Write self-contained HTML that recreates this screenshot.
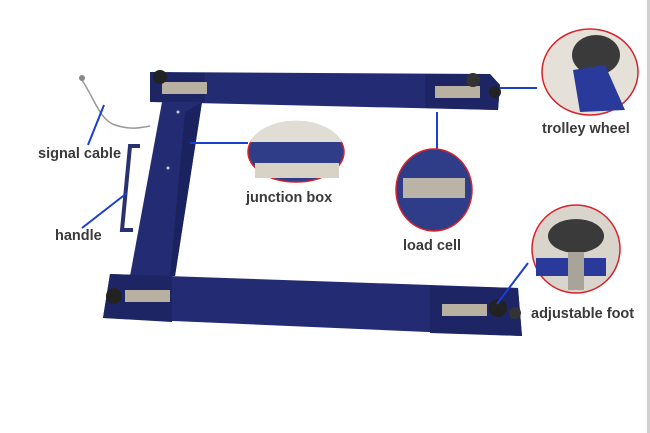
<!DOCTYPE html>
<html><head><style>
html,body{margin:0;padding:0;background:#fff;width:650px;height:433px;overflow:hidden}
svg text{font-family:"Liberation Sans",sans-serif;font-weight:bold;font-size:14.5px;fill:#3a3a3a}
</style></head><body>
<svg width="650" height="433" viewBox="0 0 650 433" xmlns="http://www.w3.org/2000/svg">
<rect x="647" y="0" width="3" height="433" fill="#d0d0d0"/>
<!-- handle -->
<path d="M140 146 L130 146 L122 230 L133 230" fill="none" stroke="#2a3170" stroke-width="4"/>
<!-- signal cable -->
<path d="M82 80 C95 100 100 120 115 125 C130 130 140 128 150 126" fill="none" stroke="#999" stroke-width="1.5"/>
<circle cx="82" cy="78" r="3" fill="#888"/>
<!-- frame -->
<polygon points="150,72 490,74 500,85 498,110 150,102" fill="#232c72"/>
<polygon points="162,102 202,102 175,276 130,276" fill="#232c72"/>
<polygon points="185,112 202,102 175,276 170,276" fill="#1a2260"/>
<polygon points="110,274 518,288 522,336 103,318" fill="#232c72"/>
<polygon points="110,274 172,276 172,322 103,318" fill="#1d2565"/>
<polygon points="430,286 518,288 522,336 430,333" fill="#1d2565"/>
<polygon points="150,72 205,73 205,102 150,102" fill="#1d2565"/>
<polygon points="425,74 490,74 500,85 498,110 425,108" fill="#1d2565"/>
<!-- load cells / feet -->
<rect x="162" y="82" width="45" height="12" fill="#b8b0a0"/>
<circle cx="160" cy="77" r="7" fill="#222"/>
<rect x="435" y="86" width="45" height="12" fill="#b8b0a0"/>
<circle cx="473" cy="80" r="7" fill="#333"/>
<circle cx="495" cy="92" r="6" fill="#222"/>
<rect x="125" y="290" width="45" height="12" fill="#b8b0a0"/>
<circle cx="114" cy="296" r="8" fill="#222"/>
<rect x="442" y="304" width="45" height="12" fill="#b8b0a0"/>
<circle cx="498" cy="308" r="9" fill="#222"/>
<circle cx="515" cy="313" r="6" fill="#333"/>
<circle cx="178" cy="112" r="1.5" fill="#ccc"/><circle cx="168" cy="168" r="1.5" fill="#ccc"/>
<!-- callout lines -->
<g stroke="#1a3fd0" stroke-width="2" fill="none">
<line x1="88" y1="145" x2="104" y2="105"/>
<line x1="82" y1="228" x2="127" y2="193"/>
<line x1="190" y1="143" x2="248" y2="143"/>
<line x1="437" y1="112" x2="437" y2="149"/>
<line x1="500" y1="88" x2="537" y2="88"/>
<line x1="497" y1="304" x2="528" y2="263"/>
</g>
<!-- circles -->
<ellipse cx="296" cy="152" rx="48" ry="30" fill="#2f3d88" stroke="#d8222a" stroke-width="1.5"/>
<path d="M250 142 A48 30 0 0 1 342 142 Z" fill="#e0ddd5"/>
<rect x="255" y="163" width="84" height="15" fill="#d8d2c6"/>
<ellipse cx="434" cy="190" rx="38" ry="41" fill="#2f3d88" stroke="#d8222a" stroke-width="1.5"/>
<rect x="403" y="178" width="62" height="20" fill="#b9b3a8"/>
<ellipse cx="590" cy="72" rx="48" ry="43" fill="#e5e1d8" stroke="#d8222a" stroke-width="1.5"/>
<ellipse cx="596" cy="55" rx="24" ry="20" fill="#3a3a3a"/>
<polygon points="573,70 605,65 625,110 580,112" fill="#2a3a9a"/>
<circle cx="576" cy="249" r="44" fill="#d9d5cc" stroke="#d8222a" stroke-width="1.5"/>
<rect x="536" y="258" width="70" height="18" fill="#2a3a9a"/>
<ellipse cx="576" cy="236" rx="28" ry="17" fill="#3a3a3a"/>
<rect x="568" y="252" width="16" height="38" fill="#a8a49a"/>
<!-- labels -->
<text x="38" y="158">signal cable</text>
<text x="55" y="240">handle</text>
<text x="246" y="202">junction box</text>
<text x="403" y="250">load cell</text>
<text x="542" y="133">trolley wheel</text>
<text x="531" y="318">adjustable foot</text>
</svg>
</body></html>
